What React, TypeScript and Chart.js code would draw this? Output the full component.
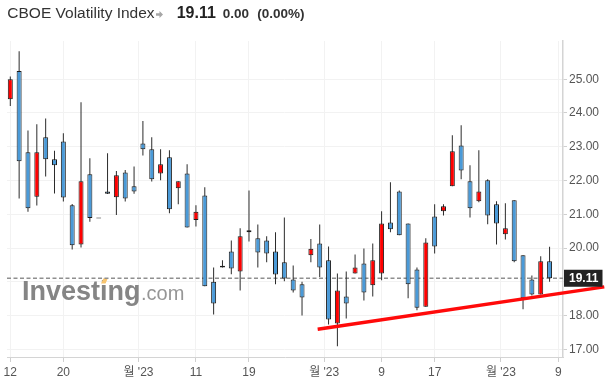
import React, { useEffect, useRef } from 'react';
import { Chart, registerables } from 'chart.js';

Chart.register(...registerables);

const FONT = "'Liberation Sans', Arial, 'Noto Sans CJK KR', sans-serif";

// Trading days (Dec 12 2022 .. Mar 8 2023)
const dates = [
  '12/12', '12/13', '12/14', '12/15', '12/16', '12/19', '12/20', '12/21', '12/22', '12/23',
  '12/26', '12/27', '12/28', '12/29', '12/30', '1/3', '1/4', '1/5', '1/6', '1/9',
  '1/10', '1/11', '1/12', '1/13', '1/16', '1/17', '1/18', '1/19', '1/20', '1/23',
  '1/24', '1/25', '1/26', '1/27', '1/30', '1/31', '2/1', '2/2', '2/3', '2/6',
  '2/7', '2/8', '2/9', '2/10', '2/13', '2/14', '2/15', '2/16', '2/17', '2/20',
  '2/21', '2/22', '2/23', '2/24', '2/27', '2/28', '3/1', '3/2', '3/3', '3/6',
  '3/7', '3/8',
];

const opens = [
  24.41, 25.24, 22.84, 21.52, 23.28, 22.63, 23.16, 21.27, 20.11, 22.19,
  20.88, 21.68, 21.51, 22.24, 21.83, 23.10, 22.93, 22.21, 22.69, 21.77,
  22.21, 20.83, 21.56, 19.01, 19.43, 19.90, 19.31, 20.47, 20.29, 20.23,
  19.90, 19.58, 19.07, 18.93, 19.79, 20.14, 19.64, 17.77, 18.57, 19.25,
  19.55, 18.90, 19.25, 20.76, 21.68, 20.73, 19.37, 18.27, 20.94, 21.09,
  21.83, 23.04, 21.98, 21.39, 22.01, 21.30, 20.41, 21.42, 19.79, 19.07,
  18.63, 19.61,
];

const highs = [
  25.08, 25.83, 23.48, 23.67, 23.84, 22.88, 23.40, 21.31, 24.32, 22.66,
  20.88, 22.81, 22.28, 22.31, 22.42, 23.76, 23.28, 22.93, 22.90, 21.98,
  22.48, 21.27, 21.80, 19.43, 19.64, 20.23, 20.59, 21.71, 20.70, 20.35,
  20.47, 20.91, 19.49, 19.01, 20.27, 20.70, 20.05, 19.25, 19.31, 19.81,
  19.99, 20.14, 21.09, 21.95, 21.71, 20.73, 19.43, 20.29, 21.30, 21.30,
  23.34, 23.64, 22.45, 22.90, 22.04, 21.39, 21.33, 21.42, 19.79, 19.19,
  19.76, 20.04,
];

const lows = [
  24.21, 21.47, 21.08, 21.26, 22.12, 21.62, 21.38, 19.96, 20.02, 20.78,
  20.88, 21.60, 20.98, 21.38, 21.61, 22.74, 21.97, 22.01, 21.03, 21.30,
  20.61, 20.64, 18.87, 18.04, 19.43, 19.23, 18.75, 20.20, 19.43, 19.58,
  18.93, 19.02, 18.69, 18.01, 19.58, 19.15, 17.74, 17.10, 17.92, 19.25,
  18.45, 18.57, 19.05, 20.47, 20.38, 18.52, 18.16, 18.27, 19.84, 20.97,
  21.83, 22.04, 20.91, 21.36, 20.71, 20.11, 20.26, 19.58, 18.19, 18.60,
  18.63, 19.01,
];

const closes = [
  25.00, 22.57, 21.18, 22.84, 22.63, 22.45, 21.50, 20.09, 21.98, 20.89,
  20.88, 21.61, 22.16, 21.47, 21.68, 22.93, 22.04, 22.48, 21.15, 21.98,
  20.61, 21.08, 18.87, 18.36, 19.48, 19.40, 20.35, 20.53, 19.87, 19.84,
  19.22, 19.10, 18.75, 18.54, 19.98, 19.43, 17.89, 18.75, 18.36, 19.43,
  18.69, 19.64, 20.73, 20.56, 20.38, 18.93, 18.24, 20.17, 20.05, 21.24,
  22.87, 22.30, 21.18, 21.68, 20.97, 20.73, 20.59, 19.61, 18.52, 18.63,
  19.61, 19.11,
];

const lastPrice = 19.11;
const priceChange = '0.00';
const priceChangePct = '(0.00%)';
const title = 'CBOE Volatility Index';

// x-axis ticks (index of trading day; .5 = month boundary)
const xTickValues = [0, 6, 14.5, 21, 27, 35.5, 42, 48, 55.5, 62];
const xTickLabels = ['12', '20', "월 '23", '11', '19', "월 '23", '9', '17', "월 '23", '9'];
const yTickValues = [17, 18, 19, 20, 21, 22, 23, 24, 25];

// support trend line (drawn by user)
const trendX = [34.77, 67.19];
const trendY = [17.6, 18.855];

const UP = '#ff0000';
const DOWN = '#4a9ad8';

const overlayPlugin = {
  id: 'overlay',
  beforeDatasetsDraw(chart: any) {
    const { ctx, chartArea, scales } = chart;
    ctx.save();
    // watermark
    ctx.textBaseline = 'alphabetic';
    ctx.textAlign = 'left';
    ctx.font = `bold 27px ${FONT}`;
    ctx.fillStyle = '#858585';
    const wx = 22;
    const wy = 300;
    ctx.fillText('Investing', wx, wy);
    const w = ctx.measureText('Investing').width;
    const iw = ctx.measureText('Invest').width;
    ctx.fillStyle = '#f8c56f';
    ctx.beginPath();
    ctx.moveTo(wx + iw + 1, wy - 16.5);
    ctx.lineTo(wx + iw + 3.5, wy - 21.8);
    ctx.lineTo(wx + iw + 7.8, wy - 21.8);
    ctx.lineTo(wx + iw + 5.5, wy - 16.5);
    ctx.closePath();
    ctx.fill();
    ctx.font = `20px ${FONT}`;
    ctx.fillStyle = '#969696';
    ctx.fillText('.com', wx + w + 0.5, wy);
    // last price dashed line
    const py = scales.y.getPixelForValue(lastPrice);
    ctx.setLineDash([4, 2.5]);
    ctx.strokeStyle = '#8f8f8f';
    ctx.lineWidth = 1.5;
    ctx.beginPath();
    ctx.moveTo(chartArea.left, py);
    ctx.lineTo(chartArea.right, py);
    ctx.stroke();
    ctx.restore();
  },
  afterDraw(chart: any) {
    const { ctx, chartArea, scales } = chart;
    const py = scales.y.getPixelForValue(lastPrice);
    ctx.save();
    ctx.fillStyle = '#222222';
    ctx.fillRect(chartArea.right + 1, py - 8.5, 38.5, 17);
    ctx.fillStyle = '#ffffff';
    ctx.font = `bold 12px ${FONT}`;
    ctx.textBaseline = 'middle';
    ctx.textAlign = 'left';
    ctx.fillText(lastPrice.toFixed(2), chartArea.right + 6, py + 0.5);
    ctx.restore();
  },
};

export default function App() {
  const ref = useRef<HTMLCanvasElement>(null);

  useEffect(() => {
    document.body.style.margin = '0';
    const canvas = ref.current;
    if (!canvas) return;
    const chart = new Chart(canvas, {
      type: 'bar',
      data: {
        datasets: [
          {
            type: 'line',
            label: 'trend',
            data: trendX.map((x, i) => ({ x, y: trendY[i] })),
            borderColor: '#ff0a0a',
            borderWidth: 3.5,
            pointRadius: 0,
            clip: false,
            order: 0,
          } as any,
          {
            label: 'body',
            data: dates.map((_, i) => ({ x: i, y: [opens[i], closes[i]] })),
            backgroundColor: (c: any) => {
              const i = c.dataIndex;
              if (i === undefined) return DOWN;
              if (closes[i] === opens[i]) return '#333333';
              return closes[i] > opens[i] ? UP : DOWN;
            },
            borderColor: '#1c1c1c',
            borderWidth: 1,
            borderSkipped: false,
            barThickness: 5,
            minBarLength: 1,
            grouped: false,
            inflateAmount: 0,
            order: 1,
          } as any,
          {
            label: 'wick',
            data: dates.map((_, i) => ({ x: i, y: [lows[i], highs[i]] })),
            backgroundColor: '#2b2b2b',
            borderWidth: 0,
            barThickness: 1,
            grouped: false,
            inflateAmount: 0,
            order: 2,
          } as any,
        ],
      },
      options: {
        responsive: false,
        animation: false,
        layout: { padding: { left: 7, top: 41, right: 0, bottom: 0 } },
        plugins: {
          legend: { display: false },
          tooltip: { enabled: false },
        },
        scales: {
          x: {
            type: 'linear',
            min: -0.373,
            max: 62.52,
            offset: false,
            afterBuildTicks: (s: any) => {
              s.ticks = xTickValues.map((v) => ({ value: v }));
            },
            afterFit: (s: any) => {
              s.height = 34;
            },
            ticks: {
              autoSkip: false,
              maxRotation: 0,
              padding: 3,
              color: '#555555',
              font: { family: FONT, size: 12 },
              callback: (_v: any, i: number) => xTickLabels[i],
            },
            grid: { color: '#f2f2f2', tickLength: 5, tickColor: '#cfcfcf', offset: false },
            border: { color: '#d4d4d4', width: 1 },
          } as any,
          y: {
            type: 'linear',
            position: 'right',
            min: 16.78,
            max: 26.13,
            afterBuildTicks: (s: any) => {
              s.ticks = yTickValues.map((v) => ({ value: v }));
            },
            afterFit: (s: any) => {
              s.width = 47;
            },
            ticks: {
              padding: 2,
              color: '#555555',
              font: { family: FONT, size: 12 },
              callback: (v: any) => (Math.abs(v - lastPrice) < 0.5 ? '' : Number(v).toFixed(2)),
            },
            grid: { color: '#f2f2f2', tickLength: 4, tickColor: '#cfcfcf' },
            border: { color: '#d4d4d4', width: 1.5 },
          } as any,
        },
      },
      plugins: [overlayPlugin],
    } as any);
    return () => chart.destroy();
  }, []);

  return (
    <div style={{ position: 'relative', width: 610, height: 391, background: '#ffffff', fontFamily: FONT }}>
      <div
        style={{
          position: 'absolute',
          left: 7.3,
          top: 4.3,
          display: 'flex',
          alignItems: 'baseline',
          whiteSpace: 'nowrap',
          color: '#333333',
        }}
      >
        <span style={{ display: 'inline-block', width: 148.7, fontSize: 15.5 }}>{title}</span>
        <svg width="7" height="7" viewBox="0 0 7 7" style={{ marginBottom: 1.8, marginRight: 13.7 }}>
          <polygon points="0,2.3 3.5,2.3 3.5,0 7,3.5 3.5,7 3.5,4.7 0,4.7" fill="#a6a6a6" />
        </svg>
        <span style={{ display: 'inline-block', width: 46, fontSize: 16, fontWeight: 'bold', color: '#222' }}>
          {lastPrice.toFixed(2)}
        </span>
        <span style={{ display: 'inline-block', width: 34.6, fontSize: 13.5, fontWeight: 'bold', color: '#333' }}>
          {priceChange}
        </span>
        <span style={{ display: 'inline-block', fontSize: 13.5, fontWeight: 'bold', color: '#333' }}>
          {priceChangePct}
        </span>
      </div>
      <canvas ref={ref} width={610} height={391} style={{ display: 'block', width: 610, height: 391 }} />
    </div>
  );
}
